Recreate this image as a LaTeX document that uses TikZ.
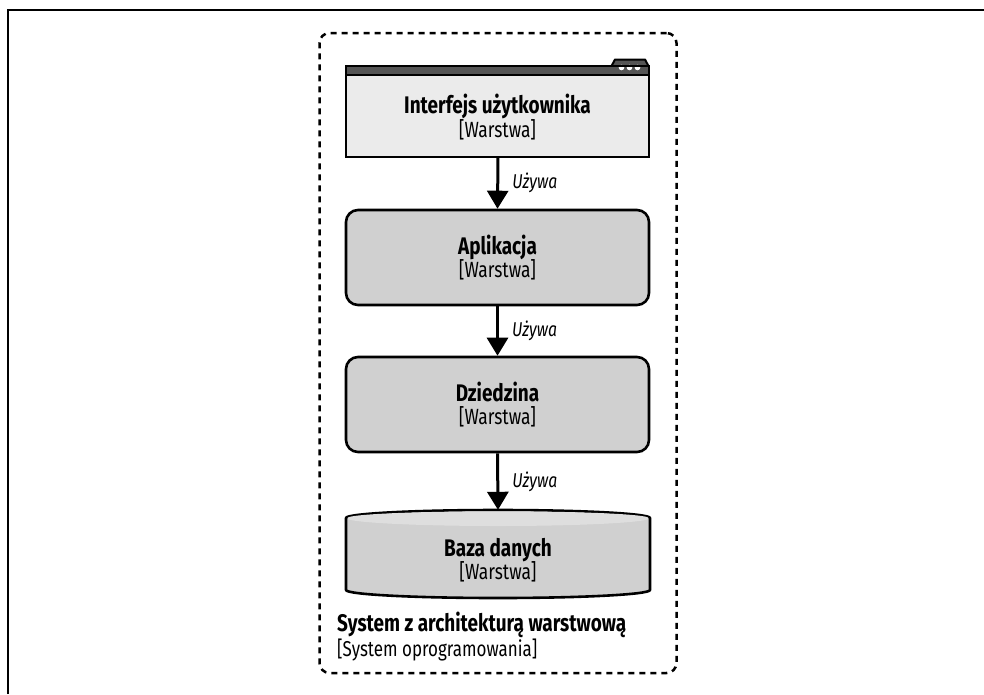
\documentclass[tikz,border=0pt]{standalone}
\usepackage{fontspec}
\setmainfont[FakeStretch=0.79]{Fira Sans}
\usetikzlibrary{arrows.meta}
\definecolor{uifill}{HTML}{EBEBEB}
\definecolor{boxfill}{HTML}{D0D0D0}
\definecolor{topfill}{HTML}{DEDEDE}
\definecolor{bardark}{HTML}{555555}
\newcommand{\ttl}[1]{{\bfseries\fontsize{24}{23}\selectfont #1}}
\newcommand{\subt}[1]{{\fontsize{22}{23}\selectfont #1}}
\tikzset{
  txt/.style={align=center, inner sep=0pt, font=\fontsize{22}{23.5}\selectfont},
  layer/.style={txt, draw=black, line width=2.6pt, fill=boxfill, rounded corners=12pt,
    minimum width=303pt, minimum height=95pt},
  arr/.style={line width=3pt, -{Triangle[width=21pt,length=18pt]}},
  uses/.style={font=\itshape\fontsize{20}{22}\selectfont, anchor=west, inner sep=0pt}
}
\begin{document}
\begin{tikzpicture}[x=1pt,y=-1pt]
\useasboundingbox (0,0) rectangle (984,694);
% outer frame (cropped)
\draw[line width=2.5pt] (8,694) -- (8,10) -- (984,10);
% system boundary
\node[draw=black, line width=2.5pt, dash pattern=on 6pt off 5pt, rounded corners=10pt,
  minimum width=357pt, minimum height=640pt, inner sep=0pt] (sys) at (498,353) {};
% UI box
\node[draw=black, line width=2.6pt, fill=uifill, minimum width=303pt, minimum height=91pt, inner sep=0pt] (ui) at (497.5,111.5) {};
\draw[fill=bardark, line width=2pt, line join=round] (611,67) -- (615,59.5) -- (645,59.5) -- (649,67) -- cycle;
\draw[fill=bardark, line width=2pt] (346,66) rectangle (649,75);
\fill[white] (621.5,67.5) circle (2.8);
\fill[white] (629.5,67.5) circle (2.8);
\fill[white] (637.5,67.5) circle (2.8);
\draw[line width=2.6pt] (346,66) rectangle (649,157);
\node[txt] (uitext) at (497.5,117) {\ttl{Interfejs użytkownika}\\\subt{[Warstwa]}};
% Application
\node[layer] (app) at (497.5,257.5) {\ttl{Aplikacja}\\\subt{[Warstwa]}};
% Domain
\node[layer] (dom) at (497.5,404.5) {\ttl{Dziedzina}\\\subt{[Warstwa]}};
% Database cylinder
\fill[boxfill] (346,518) -- (346,590) arc[start angle=180, end angle=0, x radius=152, y radius=8] -- (650,518) arc[start angle=0, end angle=-180, x radius=152, y radius=8] -- cycle;
\fill[topfill] (498,518) ellipse [x radius=152, y radius=8];
\draw[line width=2.6pt, line join=round] (346,518) -- (346,590) arc[start angle=180, end angle=0, x radius=152, y radius=8] -- (650,518) arc[start angle=0, end angle=-180, x radius=152, y radius=8] -- cycle;
\fill[topfill] (498,518) ellipse [x radius=150.5, y radius=6.7];
\node[minimum width=303pt, minimum height=88pt, inner sep=0pt] (db) at (498,554) {};
\node[txt] (dbtext) at (498,560) {\ttl{Baza danych}\\\subt{[Warstwa]}};
% connectors
\draw[arr] (498,157) -- (app.north) node[midway, uses, xshift=13pt] {Używa};
\draw[arr] (app.south) -- (dom.north) node[midway, uses, xshift=13pt] {Używa};
\draw[arr] (dom.south) -- (db.north) node[midway, uses, xshift=13pt] {Używa};
% system label
\node[anchor=north west, align=left, inner sep=0pt, font=\fontsize{21.5}{23}\selectfont] (syslabel) at (337,612) {{\bfseries\fontsize{24}{23}\selectfont System z architekturą warstwową}\\{\fontsize{21.5}{23}\selectfont [System oprogramowania]}};
\end{tikzpicture}
\end{document}
